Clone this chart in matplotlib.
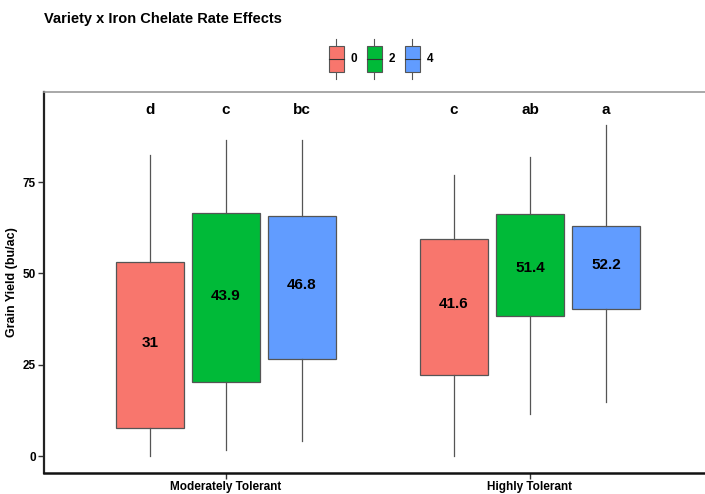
import numpy as np
import matplotlib.pyplot as plt
from matplotlib.patches import Patch, Rectangle
from matplotlib.lines import Line2D
from matplotlib.legend_handler import HandlerBase

plt.rcParams['font.family'] = ['Liberation Sans', 'DejaVu Sans']

varieties = ["Moderately Tolerant", "Highly Tolerant"]
rates = ["0", "2", "4"]
colors = ["#F8766D", "#00BA38", "#619CFF"]

# box stats per variety, one value per chelate rate
whisk_lo = [[0.0, 1.6, 4.1], [0.0, 11.5, 14.8]]
q1 = [[7.7, 20.3, 26.6], [22.2, 38.3, 40.2]]
q3 = [[53.1, 66.5, 65.7], [59.4, 66.2, 63.0]]
whisk_hi = [[82.4, 86.5, 86.5], [76.9, 81.9, 90.6]]
means = [[31, 43.9, 46.8], [41.6, 51.4, 52.2]]
letters = [["d", "c", "bc"], ["c", "ab", "a"]]
letter_y = 94.7


class BoxHandler(HandlerBase):
    def create_artists(self, legend, orig_handle, xdescent, ydescent,
                       width, height, fontsize, trans):
        x0, y0 = -xdescent, -ydescent
        cx = x0 + width / 2
        lo, hi = y0 + 0.175 * height, y0 + 0.825 * height
        box = Rectangle((x0, lo), width, hi - lo, facecolor=orig_handle.get_facecolor(),
                        edgecolor="#555555", linewidth=0.8, transform=trans)
        w1 = Line2D([cx, cx], [y0, lo], color="#555555", lw=0.8, transform=trans)
        w2 = Line2D([cx, cx], [hi, y0 + height], color="#555555", lw=0.8, transform=trans)
        med = Line2D([x0, x0 + width], [(lo + hi) / 2] * 2, color="#333333", lw=0.8, transform=trans)
        return [w1, w2, box, med]


fig = plt.figure(figsize=(7.05, 4.94), dpi=100)
ax = fig.add_axes([44 / 705, 21 / 494, 661 / 705, 381 / 494])

offsets = [-0.25, 0.0, 0.25]
for g in range(len(varieties)):
    for r in range(len(rates)):
        pos = g + 1 + offsets[r]
        stats = [{
            "whislo": whisk_lo[g][r], "q1": q1[g][r], "med": means[g][r],
            "q3": q3[g][r], "whishi": whisk_hi[g][r], "fliers": [],
        }]
        ax.bxp(stats, positions=[pos], widths=0.224, patch_artist=True,
               showcaps=False, manage_ticks=False,
               boxprops=dict(facecolor=colors[r], edgecolor="#555555", linewidth=0.9),
               whiskerprops=dict(color="#555555", linewidth=0.9),
               medianprops=dict(linewidth=0))
        ax.text(pos, means[g][r], f"{means[g][r]:g}", ha="center", va="center",
                fontsize=11, fontweight="bold")
        ax.text(pos, letter_y, letters[g][r], ha="center", va="center",
                fontsize=11, fontweight="bold")

ax.set_xlim(0.4013, 2.5757)
ax.set_ylim(-4.65, 99.64)
ax.set_xticks([1, 2])
ax.set_xticklabels(varieties, fontsize=8.5, fontweight="bold")
ax.set_yticks([0, 25, 50, 75])
ax.set_yticklabels(["0", "25", "50", "75"], fontsize=8.5, fontweight="bold")
ax.tick_params(length=4, width=1, color="#333333", pad=2)
ax.set_ylabel("Grain Yield (bu/ac)", fontsize=9, fontweight="bold", va="center")
ax.yaxis.set_label_coords(-0.0484, 0.5)

ax.spines["right"].set_visible(False)
ax.spines["top"].set_color("#999999")
ax.spines["top"].set_linewidth(1.2)
ax.spines["left"].set_color("#222222")
ax.spines["left"].set_linewidth(1.6)
ax.spines["bottom"].set_color("#111111")
ax.spines["bottom"].set_linewidth(1.8)

fig.text(44 / 705, 1 - 19 / 494, "Variety x Iron Chelate Rate Effects",
         fontsize=10.5, fontweight="bold", va="center", ha="left")

handles = [Patch(facecolor=c) for c in colors]
fig.legend(handles, rates, handler_map={Patch: BoxHandler()},
           loc="center", bbox_to_anchor=(381 / 705, 1 - 59 / 494), ncol=3,
           frameon=False, prop=dict(size=8.5, weight="bold"),
           handlelength=1.27, handleheight=4.8, handletextpad=0.6, columnspacing=0.8)

fig.savefig("out.png", dpi=100)
